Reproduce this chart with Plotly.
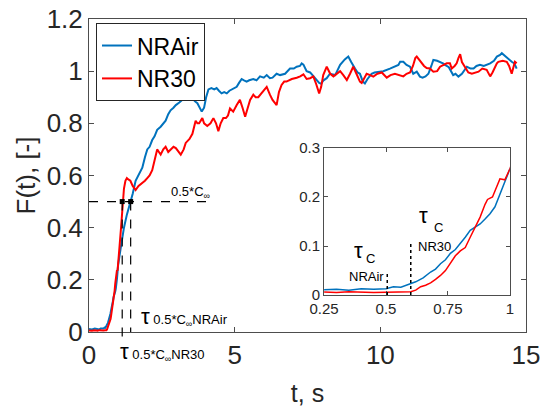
import plotly.graph_objects as go

# ---------------- data ----------------
t_air = [0, 0.1, 0.2, 0.25, 0.3, 0.35, 0.4, 0.45, 0.5, 0.53, 0.56, 0.59, 0.62, 0.65, 0.68, 0.70,
         0.72, 0.74, 0.76, 0.78, 0.80, 0.82, 0.84, 0.86, 0.88, 0.90, 0.92, 0.94, 0.96, 0.98, 1.0,
         1.1, 1.2, 1.3, 1.43, 1.5, 1.6, 1.7, 1.83, 1.92, 2.0, 2.08, 2.17, 2.25, 2.34, 2.46, 2.55,
         2.63, 2.72, 2.8, 2.9, 2.98, 3.1, 3.2, 3.28, 3.37, 3.47, 3.55, 3.63, 3.72, 3.8, 3.87, 3.95,
         4.02, 4.1, 4.2, 4.3, 4.38, 4.46, 4.55, 4.64, 4.73, 4.82, 4.9, 5.0, 5.07, 5.15, 5.24, 5.32,
         5.41, 5.5, 5.64, 5.75, 5.87, 6.0, 6.1, 6.21, 6.3, 6.44, 6.56, 6.73, 6.9, 7.03, 7.13, 7.24,
         7.3, 7.36, 7.47, 7.59, 7.7, 7.8, 7.9, 7.97, 8.05, 8.16, 8.27, 8.45, 8.62, 8.78, 8.9, 9.0,
         9.07, 9.13, 9.22, 9.3, 9.4, 9.47, 9.56, 9.7, 9.8, 9.99, 10.1, 10.33, 10.45, 10.62, 10.68,
         10.79, 10.9, 11.02, 11.13, 11.25, 11.36, 11.45, 11.55, 11.65, 11.75, 11.82, 11.95, 12.05,
         12.15, 12.22, 12.35, 12.5, 12.58, 12.68, 12.8, 12.97, 13.1, 13.2, 13.3, 13.42, 13.55,
         13.77, 13.9, 14.0, 14.11, 14.17, 14.26, 14.34, 14.45, 14.51, 14.6, 14.68]
f_air = [0.012, 0.010, 0.013, 0.011, 0.012, 0.010, 0.013, 0.012, 0.013, 0.017, 0.016, 0.022, 0.027,
         0.035, 0.047, 0.053, 0.064, 0.072, 0.085, 0.093, 0.105, 0.118, 0.132, 0.138, 0.145, 0.155,
         0.166, 0.180, 0.205, 0.230, 0.257,
         0.33, 0.40, 0.45, 0.50, 0.53, 0.58, 0.60, 0.63, 0.67, 0.70, 0.71, 0.736, 0.75, 0.775, 0.787,
         0.80, 0.81, 0.835, 0.85, 0.86, 0.87, 0.88, 0.89, 0.91, 0.915, 0.91, 0.895, 0.885, 0.877,
         0.86, 0.845, 0.86, 0.90, 0.93, 0.935, 0.93, 0.935, 0.925, 0.915, 0.92, 0.915, 0.925, 0.93,
         0.935, 0.94, 0.955, 0.97, 0.965, 0.96, 0.965, 0.97, 0.965, 0.98, 0.975, 0.985, 0.973,
         0.975, 0.99, 0.985, 0.99, 1.01, 1.01, 1.017, 1.02, 1.03, 1.025, 1.0, 0.995, 0.98, 0.965,
         0.955, 0.952, 0.965, 0.973, 0.99, 0.985, 1.024, 1.045, 1.056, 1.035, 1.02, 1.01, 0.995,
         0.99, 0.96, 0.953, 0.97, 0.99, 0.995, 0.998, 1.0, 1.01, 1.015, 1.024, 1.036, 1.036, 1.024,
         1.017, 0.99, 0.998, 0.979, 0.975, 0.98, 0.99, 1.02, 1.043, 1.04, 1.036, 1.03, 1.024, 1.015,
         0.985, 0.99, 0.979, 0.99, 1.017, 1.01, 1.01, 1.02, 1.024, 1.02, 1.03, 1.04, 1.056, 1.062,
         1.069, 1.06, 1.05, 1.04, 1.036, 1.03, 1.01]

t_nr30 = [0, 0.1, 0.2, 0.25, 0.3, 0.35, 0.4, 0.45, 0.5, 0.55, 0.6, 0.62, 0.64, 0.66, 0.68, 0.70,
          0.72, 0.74, 0.76, 0.78, 0.80, 0.82, 0.84, 0.86, 0.88, 0.90, 0.91, 0.93, 0.95, 0.96, 0.98,
          1.0, 1.05, 1.1, 1.12, 1.15, 1.17, 1.2, 1.25, 1.3, 1.35, 1.42, 1.5, 1.6, 1.7, 1.83, 1.92,
          2.0, 2.08, 2.17, 2.25, 2.34, 2.4, 2.46, 2.55, 2.63, 2.72, 2.8, 2.9, 2.98, 3.07, 3.15, 3.25,
          3.32, 3.45, 3.55, 3.66, 3.72, 3.78, 3.84, 3.89, 3.95, 4.06, 4.17, 4.27, 4.36, 4.44, 4.52,
          4.61, 4.7, 4.77, 4.84, 4.95, 5.07, 5.18, 5.27, 5.36, 5.45, 5.53, 5.64, 5.72, 5.81, 5.95,
          6.1, 6.21, 6.3, 6.44, 6.52, 6.61, 6.7, 6.78, 6.96, 7.13, 7.25, 7.36, 7.47, 7.59, 7.7, 7.8,
          7.9, 7.97, 8.04, 8.16, 8.28, 8.39, 8.5, 8.62, 8.73, 8.85, 8.96, 9.07, 9.18, 9.3, 9.36,
          9.45, 9.53, 9.65, 9.76, 9.9, 10.05, 10.22, 10.35, 10.5, 10.65, 10.79, 10.9, 11.02, 11.12,
          11.2, 11.25, 11.35, 11.42, 11.5, 11.59, 11.7, 11.82, 11.95, 12.05, 12.2, 12.28, 12.39,
          12.45, 12.55, 12.62, 12.68, 12.74, 12.8, 12.91, 13.02, 13.14, 13.25, 13.37, 13.5, 13.65,
          13.77, 13.85, 14.0, 14.05, 14.2, 14.34, 14.42, 14.51, 14.58, 14.62, 14.68]
f_nr30 = [0.006, 0.005, 0.007, 0.006, 0.005, 0.007, 0.006, 0.005, 0.006, 0.007, 0.007, 0.010, 0.017,
          0.020, 0.025, 0.032, 0.040, 0.050, 0.064, 0.080, 0.090, 0.097, 0.118, 0.140, 0.159, 0.185,
          0.195, 0.200, 0.225, 0.237, 0.235, 0.257,
          0.33, 0.40, 0.43, 0.45, 0.50, 0.55, 0.58, 0.59, 0.585, 0.58, 0.56, 0.544, 0.56, 0.57,
          0.58, 0.59, 0.60, 0.62, 0.66, 0.70, 0.69, 0.68, 0.70, 0.71, 0.69, 0.70, 0.71, 0.705, 0.69,
          0.68, 0.70, 0.725, 0.74, 0.76, 0.81, 0.80, 0.80, 0.81, 0.82, 0.80, 0.79, 0.80, 0.82, 0.80,
          0.77, 0.80, 0.82, 0.82, 0.83, 0.857, 0.845, 0.87, 0.89, 0.86, 0.825, 0.86, 0.89, 0.91,
          0.90, 0.90, 0.92, 0.94, 0.91, 0.89, 0.87, 0.92, 0.947, 0.96, 0.96, 0.97, 0.975, 0.98,
          0.988, 0.97, 0.973, 0.98, 0.95, 0.915, 0.94, 0.985, 1.017, 0.99, 0.98, 0.99, 1.0, 0.985,
          0.966, 0.99, 1.017, 0.99, 0.96, 0.955, 0.975, 0.99, 0.985, 0.979, 0.99, 0.995, 0.975,
          0.985, 0.99, 0.985, 0.98, 0.99, 0.995, 1.02, 1.05, 1.056, 1.04, 1.03, 1.02, 1.012, 1.01,
          0.998, 1.0, 1.017, 1.025, 1.03, 1.03, 1.01, 1.02, 1.03, 1.05, 1.065, 1.035, 1.017, 0.995,
          0.99, 0.995, 0.998, 1.01, 1.005, 0.98, 0.995, 1.03, 1.036, 1.04, 1.036, 1.02, 0.99, 1.02,
          1.036, 1.03]

half_level = 0.5            # 0.5*C_inf
tau_half_nr30 = 1.14        # tau_0.5C NR30
tau_half_air = 1.43         # tau_0.5C NRAir
tau_c_air = 0.505
tau_c_nr30 = 0.60
tau_c_air_h = 0.045
tau_c_nr30_h = 0.11

x_ticks = [0, 5, 10, 15]
y_ticks = [0, 0.2, 0.4, 0.6, 0.8, 1.0, 1.2]
x2_ticks = [0.25, 0.5, 0.75, 1]
y2_ticks = [0, 0.1, 0.2, 0.3]

BLUE = "#0072BD"
RED = "#FF0000"
AX = "#4d4d4d"
TXT = "#262626"
FONT = "Liberation Sans, Arial, sans-serif"

fig = go.Figure()
fig.add_trace(go.Scatter(x=t_air, y=f_air, mode="lines", name="NRAir",
                         line=dict(color=BLUE, width=2)))
fig.add_trace(go.Scatter(x=t_nr30, y=f_nr30, mode="lines", name="NR30",
                         line=dict(color=RED, width=2)))
fig.add_trace(go.Scatter(x=[tau_half_nr30, tau_half_air], y=[half_level, half_level], mode="markers",
                         marker=dict(symbol="square", size=5, color="black"), showlegend=False))
# inset
fig.add_trace(go.Scatter(x=t_air, y=f_air, mode="lines", xaxis="x2", yaxis="y2",
                         line=dict(color=BLUE, width=1.5), showlegend=False))
fig.add_trace(go.Scatter(x=t_nr30, y=f_nr30, mode="lines", xaxis="x2", yaxis="y2",
                         line=dict(color=RED, width=1.5), showlegend=False))

axis_common = dict(showline=True, linecolor=AX, linewidth=1, mirror="ticks", ticks="inside",
                   tickcolor=AX, showgrid=False, zeroline=False, automargin=False)

ymax = 1.2
shapes = [
    dict(type="line", xref="x", yref="y", x0=0, x1=4.08, y0=half_level, y1=half_level,
         line=dict(color="black", width=1.2, dash="dash")),
    dict(type="line", xref="x", yref="paper", x0=tau_half_nr30, x1=tau_half_nr30,
         y0=half_level / ymax, y1=-0.03 / ymax, line=dict(color="black", width=1.2, dash="dash")),
    dict(type="line", xref="x", yref="y", x0=tau_half_air, x1=tau_half_air,
         y0=half_level, y1=0, line=dict(color="black", width=1.2, dash="dash")),
    dict(type="line", xref="x2", yref="y2", x0=tau_c_air, x1=tau_c_air, y0=0, y1=tau_c_air_h,
         line=dict(color="black", width=1.5, dash="dot")),
    dict(type="line", xref="x2", yref="y2", x0=tau_c_nr30, x1=tau_c_nr30, y0=0, y1=tau_c_nr30_h,
         line=dict(color="black", width=1.5, dash="dot")),
]

def ann(x, y, text, size, xref="x", yref="y", xanchor="center"):
    return dict(x=x, y=y, xref=xref, yref=yref, text=text, showarrow=False,
                font=dict(size=size, color="black", family=FONT), xanchor=xanchor, yanchor="middle")

sub = "<span style='font-size:13px'>"
annotations = [
    ann(2.75, 0.535, "0.5*C<sub>∞</sub>", 13, xanchor="left"),
    ann(1.72, 0.06, "τ" + sub + " 0.5*C<sub>∞</sub>NRAir</span>", 22, xanchor="left"),
    ann(0.98, -0.075 / ymax, "τ" + sub + " 0.5*C<sub>∞</sub>NR30</span>", 22,
        yref="paper", xanchor="left"),
    ann(0.39, 0.091, "τ", 22, "x2", "y2"),
    ann(0.437, 0.074, "C", 13, "x2", "y2"),
    ann(0.42, 0.038, "NRAir", 13, "x2", "y2"),
    ann(0.65, 0.162, "τ", 22, "x2", "y2"),
    ann(0.712, 0.137, "C", 13, "x2", "y2"),
    ann(0.696, 0.099, "NR30", 13, "x2", "y2"),
]

fig.update_layout(
    width=541, height=407,
    margin=dict(l=89, r=15, t=19, b=75),
    paper_bgcolor="white", plot_bgcolor="white",
    font=dict(family=FONT, color=TXT),
    xaxis=dict(domain=[0, 1], range=[0, 15], tickvals=x_ticks, ticklen=5,
               tickfont=dict(size=26, color=TXT),
               title=dict(text="t, s", font=dict(size=25, color=TXT)), **axis_common),
    yaxis=dict(domain=[0, 1], range=[0, ymax], tickvals=y_ticks, ticklen=5,
               tickfont=dict(size=26, color=TXT),
               title=dict(text="F(t), [-]", font=dict(size=26, color=TXT), standoff=3),
               **axis_common),
    xaxis2=dict(domain=[0.538, 0.963], range=[0.25, 1], anchor="y2", tickvals=x2_ticks, ticklen=4,
                tickfont=dict(size=15, color=TXT), **axis_common),
    yaxis2=dict(domain=[0.118, 0.588], range=[0, 0.3], anchor="x2", tickvals=y2_ticks, ticklen=4,
                tickfont=dict(size=15, color=TXT), **axis_common),
    legend=dict(x=0.016, y=0.987, xanchor="left", yanchor="top", bgcolor="white",
                bordercolor=TXT, borderwidth=1, font=dict(size=23, color="black"),
                itemwidth=30, tracegroupgap=0),
    shapes=shapes, annotations=annotations,
)

fig.write_html("out.html", config={"displayModeBar": False},
               post_script="document.body.style.margin='0';document.body.style.overflow='hidden';")
